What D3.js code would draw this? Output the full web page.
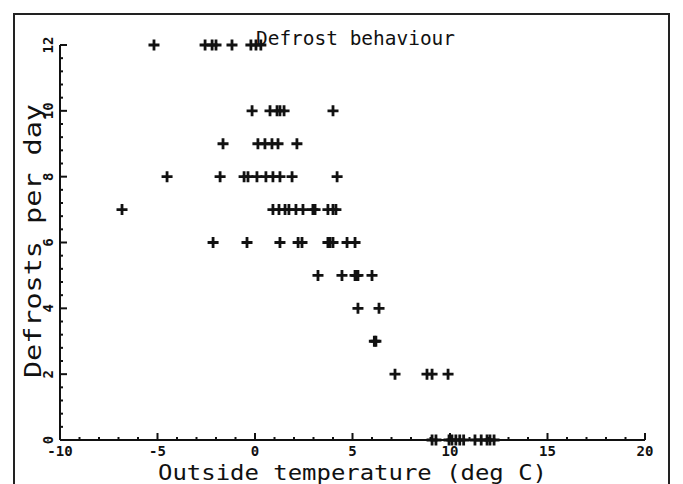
<!DOCTYPE html>
<html>
<head>
<meta charset="utf-8">
<script src="https://cdn.jsdelivr.net/npm/d3@7"></script>
<style>
  body { margin: 0; background: #fff; }
  svg { display: block; }
  text { font-family: "DejaVu Sans Mono", monospace; fill: #111; }
</style>
</head>
<body>
<script>
// Data: outside temperature (deg C) vs defrosts per day
const defrosts12 = [-5.18, -2.56, -2.2, -2.0, -1.18, -0.21, 0.05, 0.3];
const defrosts10 = [-0.15, 0.77, 1.13, 1.28, 1.49, 4.0];
const defrosts9  = [-1.64, 0.15, 0.51, 0.87, 1.18, 2.15];
const defrosts8  = [-4.51, -1.79, -0.56, -0.36, 0.10, 0.56, 0.92, 1.28, 1.90, 4.21];
const defrosts7  = [-6.82, 0.92, 1.23, 1.54, 1.74, 2.1, 2.46, 2.97, 3.08, 3.74, 4.0, 4.15];
const defrosts6  = [-2.15, -0.41, 1.28, 2.21, 2.41, 3.74, 3.85, 4.0, 4.72, 5.13];
const defrosts5  = [3.23, 4.46, 5.13, 5.2, 5.28, 6.0];
const defrosts4  = [5.28, 6.36];
const defrosts3  = [6.12, 6.2];
const defrosts2  = [7.18, 8.82, 9.08, 9.9];
const defrosts0  = [9.08, 9.28, 9.95, 10.1, 10.3, 10.5, 10.7, 11.28, 11.6, 11.9, 12.05, 12.26];

const xTicks = [-10, -5, 0, 5, 10, 15, 20];
const yTicks = [0, 2, 4, 6, 8, 10, 12];
const chartTitle = "Defrost behaviour";
const xTitle = "Outside temperature (deg C)";
const yTitle = "Defrosts per day";

const rows = [
  [12, defrosts12], [10, defrosts10], [9, defrosts9], [8, defrosts8],
  [7, defrosts7], [6, defrosts6], [5, defrosts5], [4, defrosts4],
  [3, defrosts3], [2, defrosts2], [0, defrosts0]
];
const points = rows.flatMap(([n, temps]) => temps.map(t => ({t, n})));

const W = 683, H = 484;
const svg = d3.select("body").append("svg").attr("width", W).attr("height", H);

// outer frame
svg.append("rect").attr("x", 14).attr("y", 14).attr("width", 655).attr("height", 480)
  .attr("fill", "none").attr("stroke", "#222").attr("stroke-width", 2);

const x = d3.scaleLinear().domain([-10, 20]).range([60, 645]);
const y = d3.scaleLinear().domain([0, 12]).range([440, 45]);

// axis lines
svg.append("line").attr("x1", x(-10)).attr("x2", x(20)).attr("y1", y(0)).attr("y2", y(0))
  .attr("stroke", "#111").attr("stroke-width", 2);
svg.append("line").attr("x1", x(-10)).attr("x2", x(-10)).attr("y1", y(0)).attr("y2", y(12))
  .attr("stroke", "#111").attr("stroke-width", 2);

// minor & major ticks (x)
const xMinor = d3.range(-10, 20.001, 1);
svg.append("g").selectAll("line").data(xMinor).join("line")
  .attr("x1", d => x(d)).attr("x2", d => x(d))
  .attr("y1", y(0)).attr("y2", d => y(0) - (d % 5 === 0 ? 7 : 3))
  .attr("stroke", "#111").attr("stroke-width", 2);
svg.append("g").selectAll("text").data(xTicks).join("text")
  .attr("x", d => x(d)).attr("y", y(0) + 16)
  .attr("text-anchor", "middle").attr("font-size", 14).attr("font-weight", "bold")
  .text(d => d);

// minor & major ticks (y)
const yMinor = d3.range(0, 12.001, 0.4);
svg.append("g").selectAll("line").data(yMinor).join("line")
  .attr("y1", d => y(d)).attr("y2", d => y(d))
  .attr("x1", x(-10)).attr("x2", d => x(-10) + (Math.abs(d / 2 - Math.round(d / 2)) < 1e-6 ? 7 : 3))
  .attr("stroke", "#111").attr("stroke-width", 2);
svg.append("g").selectAll("text").data(yTicks).join("text")
  .attr("transform", d => `translate(${x(-10) - 7},${y(d)}) rotate(-90)`)
  .attr("text-anchor", "middle").attr("font-size", 14).attr("font-weight", "bold")
  .text(d => d);

// points as plus marks
svg.append("g").selectAll("path").data(points).join("path")
  .attr("transform", d => `translate(${x(d.t)},${y(d.n)})`)
  .attr("d", "M-5.5,0H5.5M0,-5.5V5.5")
  .attr("stroke", "#111").attr("stroke-width", 2.8).attr("fill", "none");

// titles
svg.append("text").attr("x", 256).attr("y", 45)
  .attr("font-size", 19).attr("textLength", 199).attr("lengthAdjust", "spacingAndGlyphs")
  .text(chartTitle);
svg.append("text").attr("x", 158).attr("y", 480)
  .attr("font-size", 21).attr("textLength", 389).attr("lengthAdjust", "spacingAndGlyphs")
  .text(xTitle);
svg.append("text").attr("transform", "translate(41,378) rotate(-90)")
  .attr("font-size", 23).attr("textLength", 274).attr("lengthAdjust", "spacingAndGlyphs")
  .text(yTitle);
</script>
</body>
</html>
